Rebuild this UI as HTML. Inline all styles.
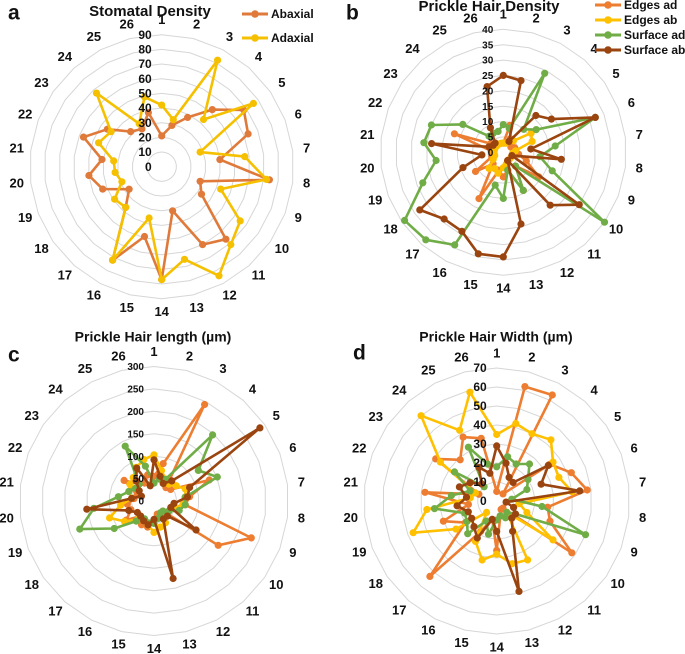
<!DOCTYPE html>
<html><head><meta charset="utf-8">
<style>
html,body{margin:0;padding:0;background:#fff;}
svg{display:block;font-family:"Liberation Sans",Arial,sans-serif;}
</style></head>
<body>
<svg id="chart" width="685" height="654" viewBox="0 0 685 654" xmlns="http://www.w3.org/2000/svg"></svg>
<script>
// ---- data ----
const spokes = ["1","2","3","4","5","6","7","8","9","10","11","12","13","14","15","16","17","18","19","20","21","22","23","24","25","26"];
// panel a
const aTicks = [0,10,20,30,40,50,60,70,80,90];
const abaxial = [21,29,38,52,68,63,40,74,28,33,66,60,31,77,49,72,37,27,43,50,41,57,45,32,29,38];
const adaxial = [42,33,82,43,76,28,57,72,43,65,71,84,65,77,36,72,37,39,29,32,33,46,42,67,33,49];
// panel b
const bTicks = [0,5,10,15,20,25,30,35,40];
const bEdgesAd = [3,9,5,4,3,4,4,5,8,14,6,14,6,8,6,17,5,11,4,3,4,17,5,4,3,3];
const bEdgesAb = [3,3,4,5,11,10,4,3,3,3,3,3,4,5,7,6,7,4,3,3,3,3,3,3,3,3];
const bSurfAd = [9,8,29,10,13,32,17,12,17,40,6,14,6,15,11,34,38,39,28,22,26,25,16,7,7,7];
const bSurfAb = [25,24,4,16,19,32,9,19,3,30,23,3,24,34,34,29,29,33,14,7,23.5,5,4,4,9,22];
// panel c
const cTicks = [0,50,100,150,200,250,300];
const cEdgesAd = [55,86,243,40,45,132,80,70,232,174,30,35,30,45,60,60,45,75,55,60,45,40,81,50,45,60];
const cEdgesAb = [103,70,55,50,60,75,70,65,45,40,40,55,60,70,55,50,55,80,106,75,50,60,65,70,85,95];
const cSurfAd = [40,50,55,197,120,151,70,70,60,40,30,30,40,50,50,45,60,108,177,135,80,60,50,50,138,80];
const cSurfAb = [92,57,44,60,287,85,75,45,40,114,45,45,178,41,55,50,45,45,60,151,50,30,40,60,83,35];
// panel d
const dTicks = [0,10,20,30,40,50,60,70];
const dEdgesAd = [5,62,63,5,34,42,48,27,30,48,5,5,8,26,10,18,53,20,30,15,38,10,39,29,38,34];
const dEdgesAb = [35,42,40,43,36,35,40,12,17,36,8,35,34,28,32,24,8,26,47,37,14,12,36,60,42,59];
const dSurfAd = [18,24,22,26,20,17,8,24,50,12,8,10,8,10,18,12,23,19,18,33,24,15,27,10,32,20];
const dSurfAb = [29,20.5,14,13,33,25,44,5,9.5,12,12,18,49,16,10,22,18,16,16,21,16,21,17,12,20,15];

const C = {orange:"#ED7D31", yellow:"#FFC000", green:"#70AD47", brown:"#9A4410", aOrange:"#E07A3A", aYellow:"#F5C000"};
const svg = document.getElementById('chart');
const NS = "http://www.w3.org/2000/svg";
function mk(tag, attrs, parent){
  const e = document.createElementNS(NS, tag);
  for (const k in attrs) e.setAttribute(k, attrs[k]);
  (parent||svg).appendChild(e);
  return e;
}
function txt(s, x, y, size, anchor, parent, weight){
  const t = mk('text', {x:x, y:y, 'font-size':size, 'text-anchor':anchor||'middle', 'font-weight':weight||'bold', fill:'#111', 'dominant-baseline':'middle'}, parent);
  t.textContent = s;
  return t;
}

function radar(g, cx, cy, R, ticks, seriesList, tickSize){
  const max = ticks[ticks.length-1];
  const n = spokes.length;
  const ang = i => (i*2*Math.PI/n);
  const px = (v,i) => cx + (v/max)*R*Math.sin(ang(i));
  const py = (v,i) => cy - (v/max)*R*Math.cos(ang(i));
  // rings
  for (let t=1; t<ticks.length; t++){
    const pts = [];
    for (let i=0;i<n;i++) pts.push(px(ticks[t],i).toFixed(1)+","+py(ticks[t],i).toFixed(1));
    const ring = mk('polygon', {points:pts.join(" "), fill:'none', stroke:'#d6d6d6', 'stroke-width':1}, g);
    
    
  }
  // spoke labels
  for (let i=0;i<n;i++){
    const lx = cx + (R+14)*Math.sin(ang(i)), ly = cy - (R+14)*Math.cos(ang(i));
    const l = txt(spokes[i], lx, ly, 13, 'middle', g);
    
    
  }
  // series
  seriesList.forEach(s => {
    const sg = mk('g', {}, g);
    
    
    const pts = s.values.map((v,i)=>px(v,i).toFixed(1)+","+py(v,i).toFixed(1));
    const line = mk('polygon', {points:pts.join(" "), fill:'none', stroke:s.color, 'stroke-width':2.6, 'stroke-linejoin':'round'}, sg);
    
    
    s.values.forEach((v,i)=>{
      const d = mk('circle', {cx:px(v,i).toFixed(1), cy:py(v,i).toFixed(1), r:3.6, fill:s.color}, sg);
      
      
    });
  });
  // tick labels
  for (let t=0;t<ticks.length;t++){
    const tl = txt(String(ticks[t]), cx-10, cy-(ticks[t]/max)*R+1, tickSize, 'end', g);
    
    
  }
}

function legend(g, x, y, dy, items, size){
  items.forEach((it,k)=>{
    const lg = mk('g', {}, g);
    
    
    const yy = y + k*dy;
    mk('line', {x1:x, y1:yy, x2:x+26, y2:yy, stroke:it.color, 'stroke-width':3}, lg);
    mk('circle', {cx:x+13, cy:yy, r:3.8, fill:it.color}, lg);
    txt(it.label, x+29, yy+1, size, 'start', lg);
  });
}

// Panel a
const ga = mk('g', {});  
radar(ga, 161.7, 166.7, 132, aTicks, [
  {name:'abaxial', color:C.aOrange, values:abaxial},
  {name:'adaxial', color:C.aYellow, values:adaxial}], 12);
let t = txt('a', 8, 14, 21, 'start', ga);  
t = txt('Stomatal Density', 150, 12, 15, 'middle', ga);  
legend(ga, 242, 14, 24, [{name:'abaxial',label:'Abaxial',color:C.aOrange},{name:'adaxial',label:'Adaxial',color:C.aYellow}], 12);

// Panel b
const gb = mk('g', {});  
radar(gb, 503.3, 152.3, 123, bTicks, [
  {name:'edges-ad', color:C.orange, values:bEdgesAd},
  {name:'edges-ab', color:C.yellow, values:bEdgesAb},
  {name:'surface-ad', color:C.green, values:bSurfAd},
  {name:'surface-ab', color:C.brown, values:bSurfAb}], 10);
t = txt('b', 346, 14, 21, 'start', gb);  
t = txt('Prickle Hair Density', 489, 7, 15, 'middle', gb);  
legend(gb, 595, 5, 15, [{name:'edges-ad',label:'Edges ad',color:C.orange},{name:'edges-ab',label:'Edges ab',color:C.yellow},{name:'surface-ad',label:'Surface ad',color:C.green},{name:'surface-ab',label:'Surface ab',color:C.brown}], 12);

// Panel c
const gc = mk('g', {});  
radar(gc, 154, 501, 134.5, cTicks, [
  {name:'edges-ad', color:C.orange, values:cEdgesAd},
  {name:'edges-ab', color:C.yellow, values:cEdgesAb},
  {name:'surface-ad', color:C.green, values:cSurfAd},
  {name:'surface-ab', color:C.brown, values:cSurfAb}], 10);
t = txt('c', 8, 356, 21, 'start', gc);  
t = txt('Prickle Hair length (µm)', 153, 338, 14, 'middle', gc);  

// Panel d
const gd = mk('g', {});  
radar(gd, 496.7, 501, 133, dTicks, [
  {name:'edges-ad', color:C.orange, values:dEdgesAd},
  {name:'edges-ab', color:C.yellow, values:dEdgesAb},
  {name:'surface-ad', color:C.green, values:dSurfAd},
  {name:'surface-ab', color:C.brown, values:dSurfAb}], 12);
t = txt('d', 353, 354, 21, 'start', gd);  
t = txt('Prickle Hair Width (µm)', 496, 338, 14, 'middle', gd);  
</script>
</body></html>
